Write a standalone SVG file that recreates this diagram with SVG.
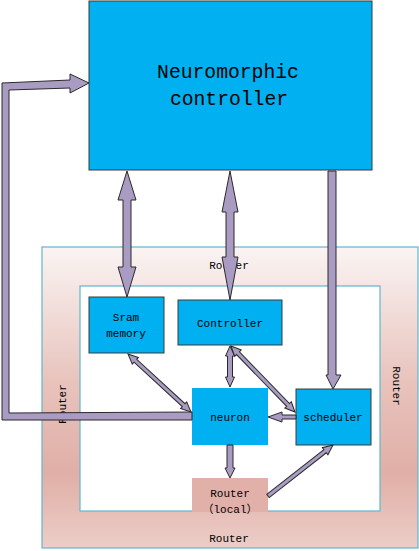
<svg xmlns="http://www.w3.org/2000/svg" width="419" height="551" viewBox="0 0 419 551">
<defs>
<linearGradient id="rg" x1="0" y1="0" x2="0" y2="1">
<stop offset="0" stop-color="#FAF4F3"/>
<stop offset="0.45" stop-color="#E8C3BC"/>
<stop offset="0.75" stop-color="#E0AFA7"/>
<stop offset="1" stop-color="#ECCDC7"/>
</linearGradient>
<style>
.box{fill:#00B0F0;stroke:#3A3A3A;stroke-width:1}
.arr{fill:#A99BC1;stroke:#2A2A2A;stroke-width:1;stroke-linejoin:miter}
.t{font-family:"Liberation Mono","Noto Sans CJK SC",monospace;font-size:11px;fill:#000;text-anchor:middle}
.big{font-family:"Liberation Mono",monospace;font-size:19.7px;fill:#000;text-anchor:middle}
</style>
</defs>
<g id="router-frame">
<rect x="42" y="247" width="376" height="301" fill="url(#rg)" stroke="#62B6CE" stroke-width="1.2"/>
<rect x="80" y="286" width="300" height="225" fill="#FFFFFF" stroke="#62B6CE" stroke-width="1.2"/>
<text class="t" x="229" y="269">Router</text>
<text class="t" x="229" y="542">Router</text>
<text class="t" transform="translate(393,386) rotate(90)">Router</text>
<text class="t" transform="translate(66,404) rotate(-90)">Router</text>
</g>
<g id="neuromorphic-controller">
<rect class="box" x="89" y="1" width="283" height="169"/>
<text class="big" x="228" y="78">Neuromorphic</text>
<text class="big" x="229" y="105">controller</text>
</g>
<g id="sram">
<rect class="box" x="89" y="297" width="75" height="56"/>
<text class="t" x="126" y="321">Sram</text>
<text class="t" x="126" y="337">memory</text>
</g>
<g id="controller">
<rect class="box" x="178" y="300" width="104" height="45"/>
<text class="t" x="230" y="327">Controller</text>
</g>
<g id="neuron">
<rect x="192" y="388" width="76" height="57" fill="#00B0F0"/>
<text class="t" x="230" y="421">neuron</text>
</g>
<g id="scheduler">
<rect class="box" x="296" y="389" width="75" height="56"/>
<text class="t" x="333" y="421">scheduler</text>
</g>
<g id="router-local">
<rect x="192" y="478" width="76" height="34" fill="#E1B1A9"/>
<text class="t" x="230" y="497">Router</text>
<text class="t" x="230" y="513">（local）</text>
</g>
<g id="connectors">
<polygon class="arr" points="192,412 9,413 9,90 70,88 70,93 89,83 70,74 70,80 2,83 2,420 192,420"/>
<polygon class="arr" points="127,171 118,200 123,200 123,267 118,267 127,297 136,267 131,267 131,200 136,200"/>
<polygon class="arr" points="230,171 222,212 226,212 226,257 222,257 230,300 238,257 234,257 234,212 238,212"/>
<polygon class="arr" points="328,171 328,375 326,375 333,389 341,375 336,375 336,171"/>
<polygon class="arr" transform="translate(128,354) rotate(42.6)" points="0,0 10,-4.5 10,-2 75.6,-2 75.6,-4.5 85.6,0 75.6,4.5 75.6,2 10,2 10,4.5"/>
<polygon class="arr" transform="translate(230,346) rotate(90)" points="0,0 10,-4.5 10,-2.5 31,-2.5 31,-4.5 41,0 31,4.5 31,2.5 10,2.5 10,4.5"/>
<polygon class="arr" transform="translate(231,346) rotate(45.9)" points="0,0 10,-4.5 10,-2 82,-2 82,-4.5 92,0 82,4.5 82,2 10,2 10,4.5"/>
<polygon class="arr" points="296,415 282,415 282,412 268,417 282,422 282,419 296,419"/>
<polygon class="arr" points="227,445 227,468 225,468 230,478 235,468 233,468 233,445"/>
<polygon class="arr" transform="translate(268,496) rotate(-38.1)" points="0,-2 72.6,-2 72.6,-4.5 82.6,0 72.6,4.5 72.6,2 0,2"/>
</g>
</svg>
